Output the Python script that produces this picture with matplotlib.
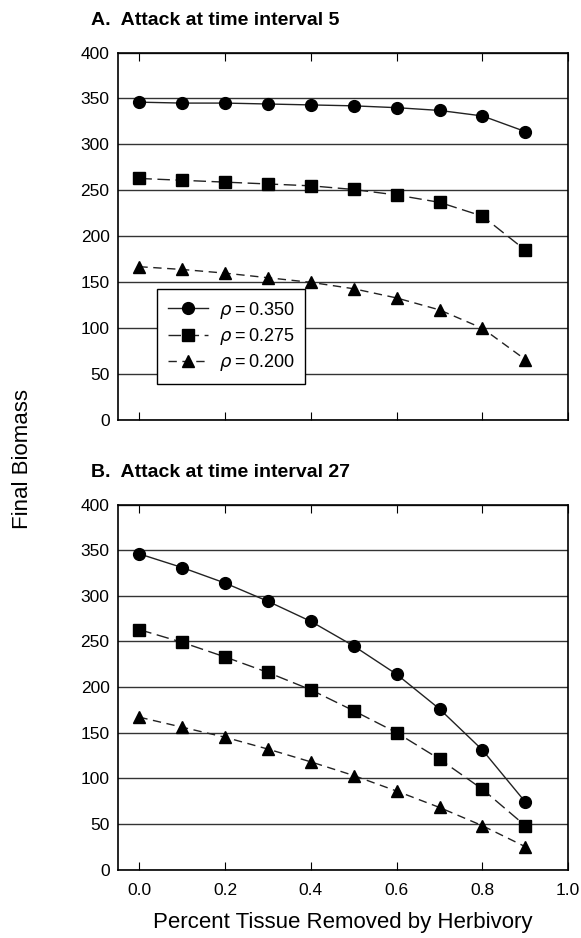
import matplotlib
matplotlib.use("Agg")
import matplotlib.pyplot as plt

plt.rcParams['font.family'] = ['Liberation Sans', 'DejaVu Sans']

removed = [0.0, 0.1, 0.2, 0.3, 0.4, 0.5, 0.6, 0.7, 0.8, 0.9]

# panel A: attack at time interval 5
a_350 = [346, 345, 345, 344, 343, 342, 340, 337, 331, 314]
a_275 = [263, 261, 259, 257, 255, 251, 245, 237, 222, 185]
a_200 = [167, 164, 160, 155, 150, 143, 133, 120, 100, 66]

# panel B: attack at time interval 27
b_350 = [346, 331, 314, 294, 272, 245, 214, 176, 131, 74]
b_275 = [263, 249, 233, 216, 197, 174, 150, 121, 88, 48]
b_200 = [167, 156, 145, 132, 118, 103, 86, 68, 48, 25]

labels = [r"$\rho$" + "\u2009=\u20090.350", r"$\rho$" + "\u2009=\u20090.275", r"$\rho$" + "\u2009=\u20090.200"]
yticks = [0, 50, 100, 150, 200, 250, 300, 350, 400]
xticks = [0.0, 0.2, 0.4, 0.6, 0.8, 1.0]

fig = plt.figure(figsize=(5.81, 9.38), dpi=100)
ax_a = fig.add_axes([0.203, 0.552, 0.775, 0.392])
ax_b = fig.add_axes([0.203, 0.073, 0.775, 0.389])


def draw(ax, s1, s2, s3, title):
    ax.plot(removed, s1, color="#222222", lw=1, marker="o", ms=8.5, mfc="black", mec="black", label=labels[0])
    ax.plot(removed, s2, color="#222222", lw=1, ls=(0, (9, 4)), marker="s", ms=8, mfc="black", mec="black", label=labels[1])
    ax.plot(removed, s3, color="#222222", lw=1, ls=(0, (6, 4)), marker="^", ms=9, mfc="black", mec="black", label=labels[2])
    ax.set_xlim(-0.05, 1.0)
    ax.set_ylim(0, 400)
    ax.set_yticks(yticks)
    ax.set_xticks(xticks)
    ax.grid(axis="y", color="#333333", lw=1)
    ax.set_axisbelow(True)
    ax.tick_params(axis="x", direction="in", top=True, length=6, labelsize=12.5, pad=10)
    ax.tick_params(axis="y", direction="in", length=0, labelsize=12.5, pad=6)
    for sp in ax.spines.values():
        sp.set_linewidth(1.2)
    ax.set_title(title, loc="left", x=-0.06, fontsize=14, fontweight="bold", pad=20)


draw(ax_a, a_350, a_275, a_200, "A.  Attack at time interval 5")
draw(ax_b, b_350, b_275, b_200, "B.  Attack at time interval 27")
ax_a.set_xticklabels([])

leg = ax_a.legend(loc="lower left", bbox_to_anchor=(0.087, 0.098), borderaxespad=0, fontsize=13,
                  fancybox=False, edgecolor="black", framealpha=1,
                  handlelength=2.2, handletextpad=0.6, borderpad=0.6, labelspacing=0.3)
leg.get_frame().set_linewidth(1)

ax_b.set_xlabel("Percent Tissue Removed by Herbivory", fontsize=16, labelpad=10)
fig.text(0.038, 0.511, "Final Biomass", rotation=90, fontsize=16, ha="center", va="center")

fig.savefig("out.png", dpi=100)
